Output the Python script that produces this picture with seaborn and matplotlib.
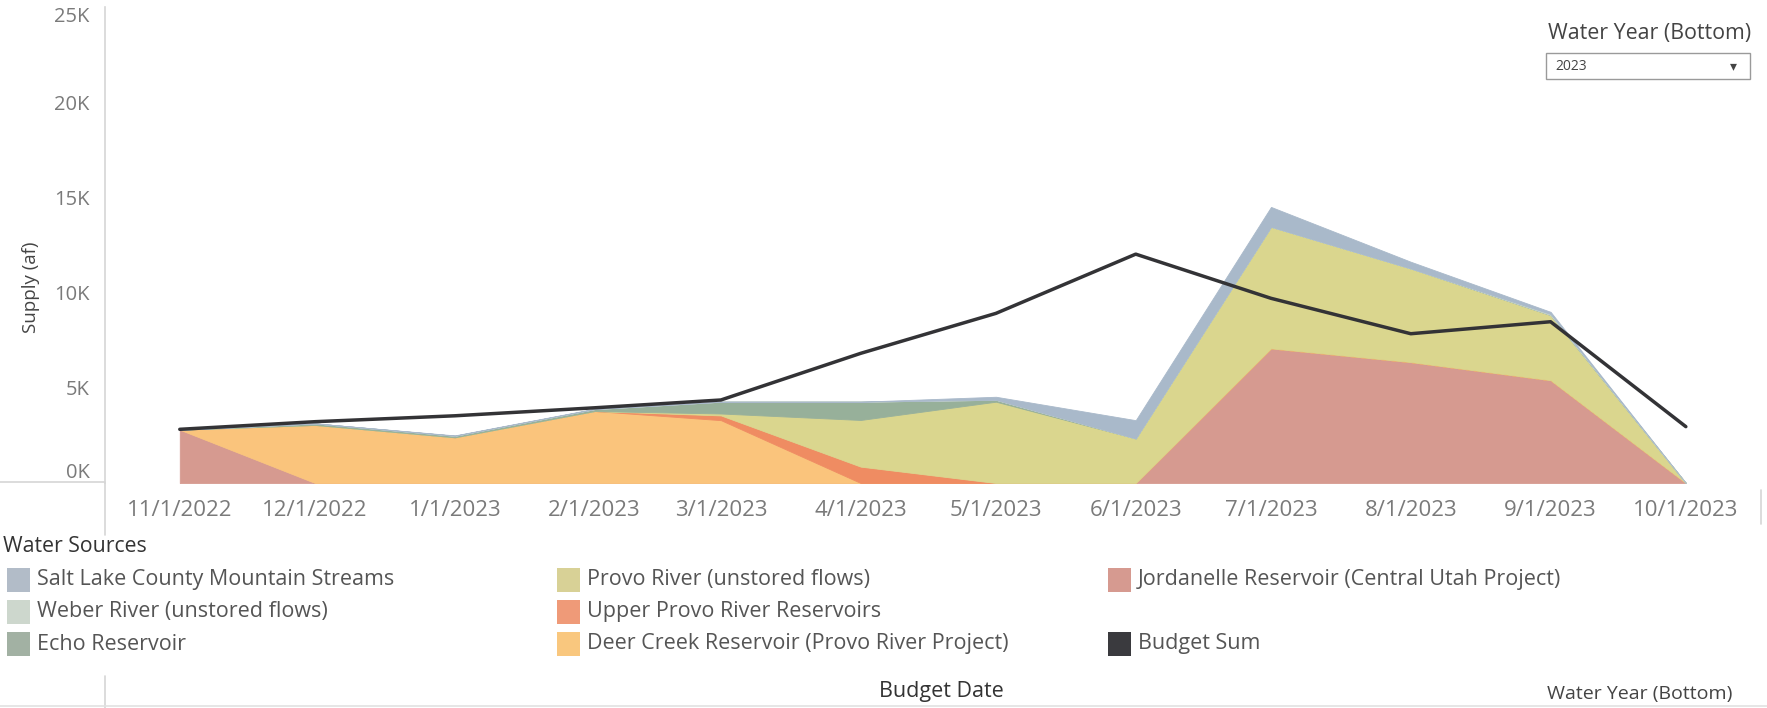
import numpy as np
import pandas as pd
import matplotlib
matplotlib.use("Agg")
import matplotlib.pyplot as plt
import matplotlib.dates as mdates
from matplotlib.patches import Rectangle
from matplotlib.lines import Line2D
import seaborn as sns

# ---------------- data ----------------
dates = ["2022-11-01", "2022-12-01", "2023-01-01", "2023-02-01", "2023-03-01", "2023-04-01",
         "2023-05-01", "2023-06-01", "2023-07-01", "2023-08-01", "2023-09-01", "2023-10-01"]
tick_labels = ["11/1/2022", "12/1/2022", "1/1/2023", "2/1/2023", "3/1/2023", "4/1/2023",
               "5/1/2023", "6/1/2023", "7/1/2023", "8/1/2023", "9/1/2023", "10/1/2023"]

budget_sum = [2820, 3220, 3530, 3950, 4360, 6810, 8910, 12020, 9700, 7840, 8470, 2960]

# stacked sources, bottom to top
jordanelle = [2800, 0, 0, 0, 0, 0, 0, 0, 7070, 6350, 5400, 0]
deer_creek = [0, 3050, 2400, 3780, 3300, 0, 0, 0, 0, 0, 0, 0]
upper_provo = [0, 0, 0, 0, 250, 860, 0, 0, 0, 0, 0, 0]
provo_river = [0, 0, 0, 0, 100, 2450, 4270, 2340, 6390, 4920, 3420, 0]
echo = [0, 80, 80, 100, 620, 960, 100, 0, 0, 0, 0, 0]
weber = [0, 0, 0, 0, 0, 0, 0, 0, 0, 0, 60, 0]
salt_lake = [0, 0, 20, 20, 0, 0, 160, 960, 1040, 350, 110, 0]

legend_names = ["Salt Lake County Mountain Streams", "Weber River (unstored flows)", "Echo Reservoir",
                "Provo River (unstored flows)", "Upper Provo River Reservoirs",
                "Deer Creek Reservoir (Provo River Project)",
                "Jordanelle Reservoir (Central Utah Project)", "Budget Sum"]

y_ticks = [0, 5000, 10000, 15000, 20000, 25000]
y_tick_labels = ["0K", "5K", "10K", "15K", "20K", "25K"]

# ---------------- style ----------------
sns.set_theme(style="white")
plt.rcParams["font.family"] = ["Open Sans", "DejaVu Sans"]

colors = {
    "Salt Lake County Mountain Streams": "#a9b9ca",
    "Weber River (unstored flows)": "#c8d6c8",
    "Echo Reservoir": "#97b09a",
    "Provo River (unstored flows)": "#dad68e",
    "Upper Provo River Reservoirs": "#ef8c62",
    "Deer Creek Reservoir (Provo River Project)": "#fac47c",
    "Jordanelle Reservoir (Central Utah Project)": "#d69a90",
    "Budget Sum": "#333336",
}
swatch_colors = {
    "Salt Lake County Mountain Streams": "#b2bcc8",
    "Weber River (unstored flows)": "#cdd7cd",
    "Echo Reservoir": "#a2b1a3",
    "Provo River (unstored flows)": "#d8d196",
    "Upper Provo River Reservoirs": "#ef9a78",
    "Deer Creek Reservoir (Provo River Project)": "#f9c77e",
    "Jordanelle Reservoir (Central Utah Project)": "#d69a90",
    "Budget Sum": "#3a3a3e",
}

W, H = 1767, 708
def fx(x):
    return x / W
def fy(y):
    return 1 - y / H

fig = plt.figure(figsize=(W / 100, H / 100), dpi=100)
fig.patch.set_facecolor("white")
ax = fig.add_axes([fx(105), fy(483), (1758 - 105) / W, (483 - 7) / H])
ax.set_facecolor("white")

x = pd.to_datetime(dates)
stack_series = [jordanelle, deer_creek, upper_provo, provo_river, echo, weber, salt_lake]
stack_names = ["Jordanelle Reservoir (Central Utah Project)",
               "Deer Creek Reservoir (Provo River Project)",
               "Upper Provo River Reservoirs", "Provo River (unstored flows)",
               "Echo Reservoir", "Weber River (unstored flows)",
               "Salt Lake County Mountain Streams"]
ax.stackplot(x, *[np.array(s, dtype=float) for s in stack_series],
             colors=[colors[n] for n in stack_names], linewidth=0.6,
             edgecolor="face")

df_line = pd.DataFrame({"date": x, "Budget Sum": budget_sum})
sns.lineplot(data=df_line, x="date", y="Budget Sum", ax=ax, color=colors["Budget Sum"],
             linewidth=2.5, zorder=5)

ax.set_xlabel("")
ax.set_ylabel("")
ax.set_xlim(mdates.date2num(pd.Timestamp("2022-10-15 10:00")),
            mdates.date2num(pd.Timestamp("2023-10-17")))
ax.set_ylim(0, 25000)

ax.set_xticks(x)
ax.set_xticklabels(tick_labels)
ax.set_yticks(y_ticks)
ax.set_yticklabels(y_tick_labels)
ax.tick_params(axis="x", length=0, pad=12, labelsize=16, labelcolor="#7a7a7a")
ax.tick_params(axis="y", length=0, pad=11, labelsize=14.5, labelcolor="#7a7a7a")
ylabs = ax.get_yticklabels()
ylabs[0].set_va("bottom")
ylabs[-1].set_va("top")

for s in ["top", "right", "bottom"]:
    ax.spines[s].set_visible(False)
ax.spines["left"].set_color("#d6d6d6")
ax.spines["left"].set_linewidth(1.2)
ax.grid(False)

# frame lines of the dashboard
fig.add_artist(Line2D([fx(0), fx(105)], [fy(482), fy(482)], transform=fig.transFigure,
                      color="#d6d6d6", lw=1.2))
fig.add_artist(Line2D([fx(105), fx(105)], [fy(483), fy(535)], transform=fig.transFigure,
                      color="#d6d6d6", lw=1.2))
fig.add_artist(Line2D([fx(105), fx(105)], [fy(676), fy(708)], transform=fig.transFigure,
                      color="#d6d6d6", lw=1.2))
fig.add_artist(Line2D([fx(1761), fx(1761)], [fy(490), fy(524)], transform=fig.transFigure,
                      color="#d6d6d6", lw=1.2))
fig.add_artist(Line2D([fx(0), fx(1767)], [fy(706), fy(706)], transform=fig.transFigure,
                      color="#e2e2e2", lw=1.2))

# axis titles
fig.text(fx(31), fy(287), "Supply (af)", rotation=90, ha="center", va="center",
         fontsize=13.5, color="#444444")
fig.text(fx(941), fy(691), "Budget Date", ha="center", va="center",
         fontsize=15.5, color="#333333")

# parameter control (top right)
fig.text(fx(1650), fy(34), "Water Year (Bottom)", ha="center", va="center",
         fontsize=15.4, color="#444444")
fig.add_artist(Rectangle((fx(1546), fy(79)), (1750 - 1546) / W, (79 - 53) / H,
                         transform=fig.transFigure, facecolor="white",
                         edgecolor="#9a9a9a", lw=1.0))
fig.text(fx(1555), fy(66), "2023", ha="left", va="center", fontsize=10, color="#444444")
fig.text(fx(1733), fy(66), "▾", ha="center", va="center", fontsize=10, color="#444444",
         family=["DejaVu Sans"])
fig.text(fx(1640), fy(694), "Water Year (Bottom)", ha="center", va="center",
         fontsize=14, color="#444444")

# legend
fig.text(fx(3), fy(547), "Water Sources", ha="left", va="center", fontsize=15.3,
         color="#333333")
col_x = [7, 557, 1108]
row_y = [580, 612, 644]
layout = [
    (0, 0, legend_names[0]), (0, 1, legend_names[1]), (0, 2, legend_names[2]),
    (1, 0, legend_names[3]), (1, 1, legend_names[4]), (1, 2, legend_names[5]),
    (2, 0, legend_names[6]), (2, 2, legend_names[7]),
]
for c, r, name in layout:
    sx, sy = col_x[c], row_y[r]
    fig.add_artist(Rectangle((fx(sx), fy(sy + 12)), 23 / W, 24 / H,
                             transform=fig.transFigure, facecolor=swatch_colors[name],
                             edgecolor="none"))
    fig.text(fx(sx + 30), fy(sy), name, ha="left", va="center", fontsize=15.5,
             color="#555555")

fig.savefig("out.png", dpi=100, facecolor="white")
